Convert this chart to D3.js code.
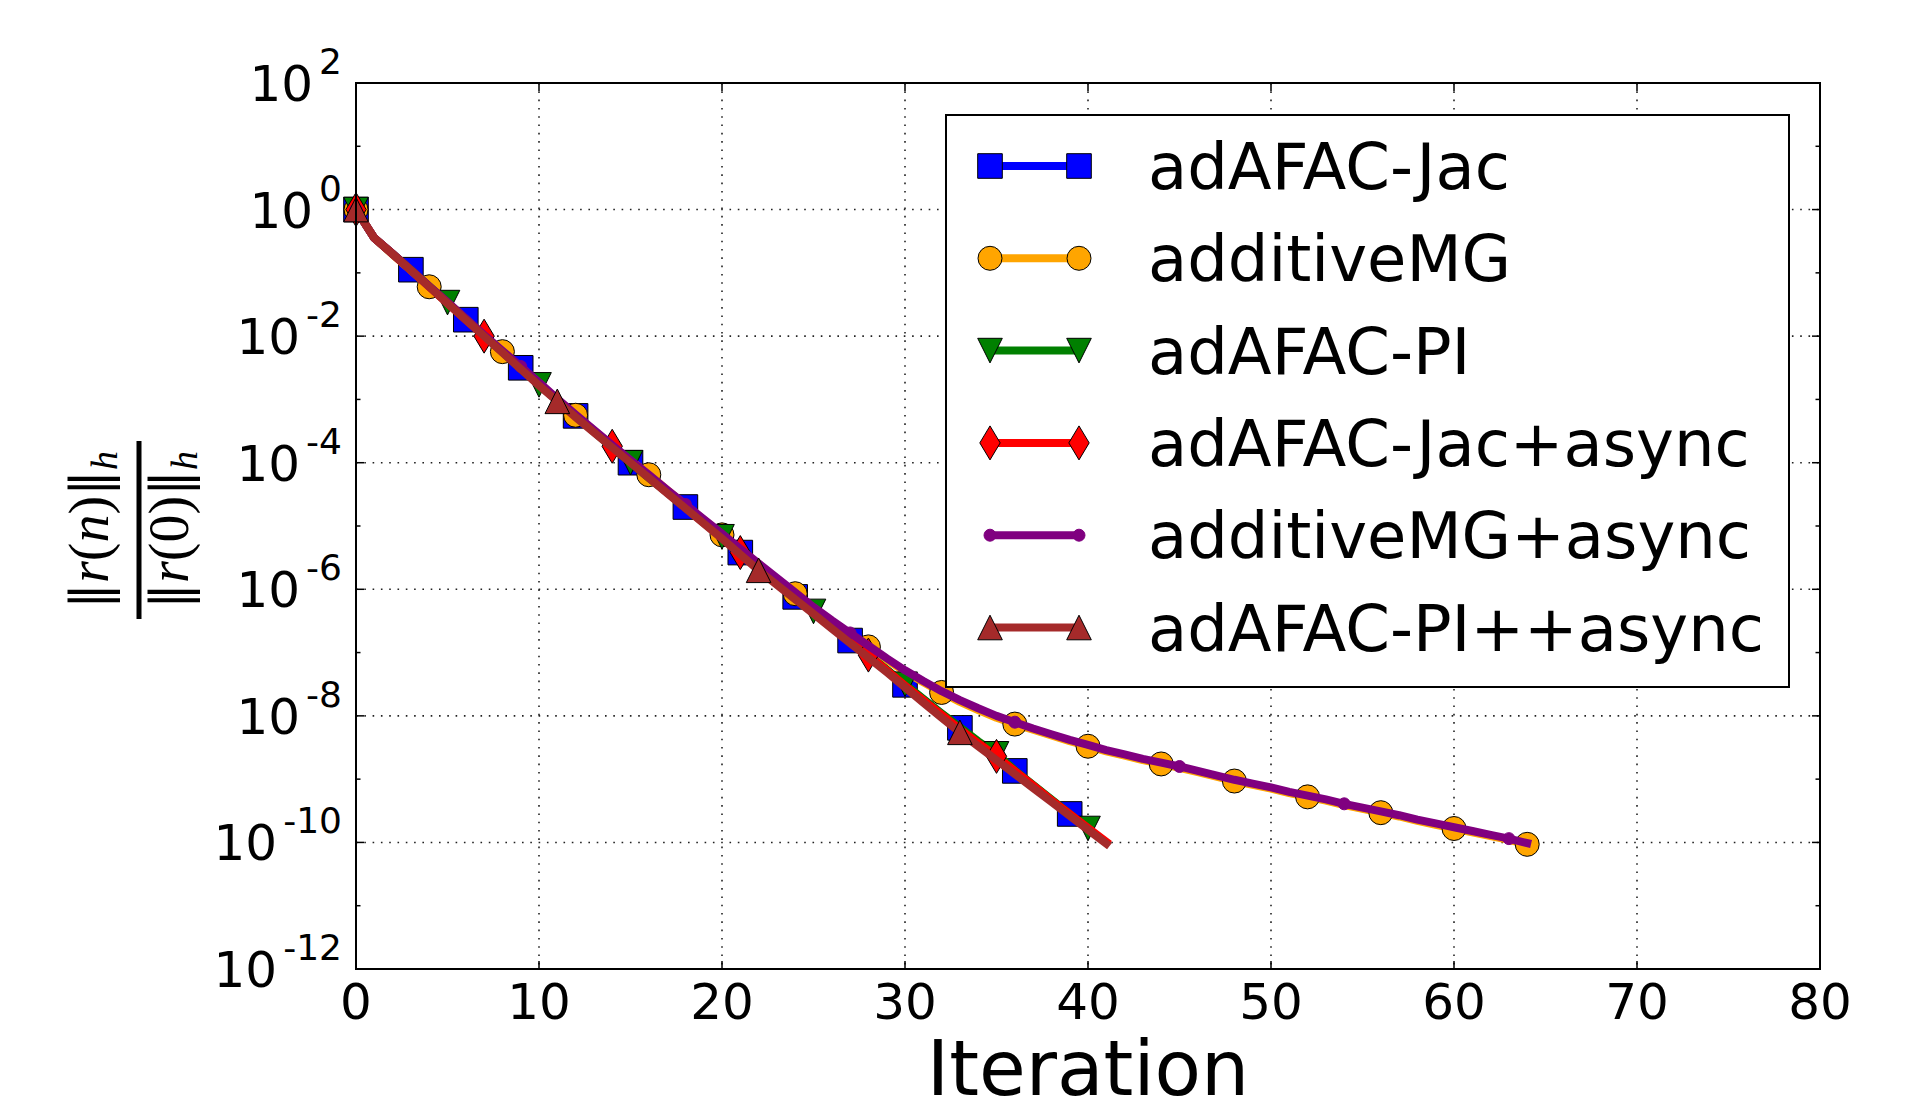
<!DOCTYPE html>
<html>
<head>
<meta charset="utf-8">
<script src="https://d3js.org/d3.v7.min.js"></script>
<style>
  body { margin: 0; background: #fff; }
  text { font-family: "DejaVu Sans", sans-serif; fill: #000; }
</style>
</head>
<body>
<script>
// log10 of ||r(n)||/||r(0)|| for each iteration n
const jacLog = [0, -0.45, -0.70, -0.95, -1.21, -1.47, -1.74, -1.99, -2.24, -2.50,
  -2.76, -3.02, -3.26, -3.50, -3.75, -4.00, -4.22, -4.46, -4.70, -4.93,
  -5.17, -5.42, -5.66, -5.89, -6.12, -6.35, -6.58, -6.81, -7.04, -7.27,
  -7.51, -7.74, -7.97, -8.19, -8.42, -8.65, -8.87, -9.10, -9.33, -9.55, -9.78];
const mgLog = [0, -0.45, -0.71, -0.96, -1.22, -1.47, -1.73, -1.99, -2.245, -2.49,
  -2.74, -3.00, -3.25, -3.49, -3.73, -3.96, -4.19, -4.43, -4.67, -4.90,
  -5.14, -5.38, -5.62, -5.85, -6.07, -6.30, -6.51, -6.71, -6.91, -7.11,
  -7.30, -7.47, -7.63, -7.78, -7.91, -8.03, -8.13, -8.22, -8.31, -8.40,
  -8.48, -8.56, -8.63, -8.70, -8.76, -8.82, -8.89, -8.96, -9.03, -9.09,
  -9.15, -9.22, -9.28, -9.34, -9.41, -9.47, -9.53, -9.59, -9.66, -9.72,
  -9.78, -9.84, -9.90, -9.96, -10.03];
const piLog = [0, -0.45, -0.70, -0.95, -1.21, -1.47, -1.73, -1.99, -2.25, -2.51,
  -2.77, -3.01, -3.26, -3.51, -3.76, -4.00, -4.24, -4.47, -4.71, -4.94,
  -5.17, -5.41, -5.65, -5.88, -6.12, -6.35, -6.58, -6.81, -7.04, -7.27,
  -7.50, -7.73, -7.96, -8.18, -8.40, -8.60, -8.86, -9.09, -9.32, -9.55, -9.78];
const jacAsyncLog = [0, -0.45, -0.70, -0.96, -1.22, -1.48, -1.74, -2.00, -2.25, -2.50,
  -2.76, -3.01, -3.26, -3.50, -3.74, -3.99, -4.23, -4.47, -4.71, -4.95,
  -5.18, -5.42, -5.66, -5.89, -6.12, -6.36, -6.59, -6.82, -7.04, -7.28,
  -7.52, -7.75, -7.98, -8.21, -8.43, -8.64, -8.87, -9.10, -9.33, -9.55,
  -9.77, -9.99];
const mgAsyncLog = [0, -0.45, -0.70, -0.95, -1.21, -1.46, -1.72, -1.98, -2.23, -2.48,
  -2.73, -2.99, -3.24, -3.48, -3.72, -3.96, -4.19, -4.43, -4.66, -4.89,
  -5.12, -5.36, -5.59, -5.82, -6.05, -6.28, -6.49, -6.69, -6.89, -7.09,
  -7.28, -7.45, -7.61, -7.75, -7.88, -8.00, -8.10, -8.20, -8.29, -8.38,
  -8.46, -8.54, -8.61, -8.68, -8.74, -8.80, -8.87, -8.94, -9.01, -9.07,
  -9.13, -9.20, -9.26, -9.32, -9.39, -9.45, -9.51, -9.57, -9.64, -9.70,
  -9.76, -9.82, -9.88, -9.94, -10.01];
const piAsyncLog = [0, -0.45, -0.70, -0.96, -1.22, -1.48, -1.74, -2.00, -2.26, -2.52,
  -2.78, -3.03, -3.28, -3.52, -3.76, -4.00, -4.24, -4.48, -4.72, -4.96,
  -5.20, -5.45, -5.70, -5.93, -6.16, -6.39, -6.62, -6.85, -7.08, -7.31,
  -7.55, -7.79, -8.03, -8.26, -8.48, -8.70, -8.92, -9.14, -9.36, -9.58,
  -9.80, -10.02];

const seriesNames = ['adAFAC-Jac', 'additiveMG', 'adAFAC-PI', 'adAFAC-Jac+async', 'additiveMG+async', 'adAFAC-PI++async'];
const seriesLogs = [jacLog, mgLog, piLog, jacAsyncLog, mgAsyncLog, piAsyncLog];
const seriesColors = ['#0000ff', '#ffa500', '#008000', '#ff0000', '#800080', '#a52a2a'];
const seriesMarkers = ['square', 'circle', 'tridown', 'diamond', 'point', 'triup'];
const markEvery = [3, 4, 5, 7, 9, 11];

const xTicks = [0, 10, 20, 30, 40, 50, 60, 70, 80];
const yTickExps = [2, 0, -2, -4, -6, -8, -10, -12];
const yMinorExps = [1, -1, -3, -5, -7, -9, -11];

const W = 1908, H = 1107;
const m = { left: 356, top: 83, right: 1820, bottom: 969 };

const svg = d3.select('body').append('svg').attr('width', W).attr('height', H);
svg.append('rect').attr('width', W).attr('height', H).attr('fill', '#fff');

const x = d3.scaleLinear().domain([0, 80]).range([m.left, m.right]);
const y = d3.scaleLog().domain([1e-12, 1e2]).range([m.bottom, m.top]);

// grid
const grid = svg.append('g').attr('stroke', '#222').attr('stroke-width', 1.6).attr('stroke-dasharray', '1.6,6.7');
grid.selectAll('.gx').data(xTicks.slice(1, -1)).enter().append('line')
  .attr('x1', d => x(d)).attr('x2', d => x(d)).attr('y1', m.top).attr('y2', m.bottom);
grid.selectAll('.gy').data(yTickExps.slice(1, -1)).enter().append('line')
  .attr('x1', m.left).attr('x2', m.right).attr('y1', d => y(10 ** d)).attr('y2', d => y(10 ** d));

// ticks (inward, all four sides)
const ticks = svg.append('g').attr('stroke', '#000').attr('stroke-width', 1.5);
xTicks.forEach(t => {
  ticks.append('line').attr('x1', x(t)).attr('x2', x(t)).attr('y1', m.bottom).attr('y2', m.bottom - 8);
  ticks.append('line').attr('x1', x(t)).attr('x2', x(t)).attr('y1', m.top).attr('y2', m.top + 8);
});
yTickExps.concat(yMinorExps).forEach(e => {
  const len = e % 2 === 0 ? 8 : 4.5;
  const yy = y(10 ** e);
  ticks.append('line').attr('x1', m.left).attr('x2', m.left + len).attr('y1', yy).attr('y2', yy);
  ticks.append('line').attr('x1', m.right).attr('x2', m.right - len).attr('y1', yy).attr('y2', yy);
});

// x tick labels
svg.append('g').selectAll('text').data(xTicks).enter().append('text')
  .attr('x', d => x(d)).attr('y', 1019).attr('text-anchor', 'middle')
  .attr('font-size', 50).text(d => d);

// y tick labels 10^e
yTickExps.forEach(e => {
  const t = svg.append('text').attr('x', 342).attr('y', y(10 ** e) + 18)
    .attr('text-anchor', 'end').attr('font-size', 50).text('10');
  t.append('tspan').attr('dx', 6).attr('dy', -27).attr('font-size', 36).text(e);
});

// axis titles
svg.append('text').attr('x', (m.left + m.right) / 2).attr('y', 1095)
  .attr('text-anchor', 'middle').attr('font-size', 76).text('Iteration');

const yLab = svg.append('g').attr('transform', 'translate(139,530) rotate(-90)');
yLab.append('line').attr('x1', -89).attr('x2', 89).attr('stroke', '#000').attr('stroke-width', 5);
function normText(yy, arg, argItalic) {
  const t = yLab.append('text').attr('x', 0).attr('y', yy).attr('text-anchor', 'middle')
    .attr('font-size', 56).style('font-family', '"Liberation Serif", "DejaVu Serif", serif');
  t.append('tspan').style('font-family', '"DejaVu Serif", serif').attr('font-size', 52).text('\u2016');
  t.append('tspan').attr('font-style', 'italic').text('r');
  t.append('tspan').text('(');
  t.append('tspan').attr('font-style', argItalic ? 'italic' : 'normal').text(arg);
  t.append('tspan').text(')');
  t.append('tspan').style('font-family', '"DejaVu Serif", serif').attr('font-size', 52).text('\u2016');
  t.append('tspan').attr('font-style', 'italic').attr('font-size', 38).attr('dy', 9).text('h');
}
normText(-31, 'n', true);
normText(49, '0', false);

// markers
function drawMarker(g, type, cx, cy, color) {
  const s = 12.3;
  let el;
  if (type === 'circle') {
    el = g.append('circle').attr('cx', cx).attr('cy', cy).attr('r', 12);
  } else if (type === 'point') {
    el = g.append('circle').attr('cx', cx).attr('cy', cy).attr('r', 6);
  } else {
    let p;
    if (type === 'square') p = `M${-s},${-s}H${s}V${s}H${-s}Z`;
    if (type === 'tridown') p = `M${-s},${-s}L${s},${-s}L0,${s}Z`;
    if (type === 'triup') p = `M0,${-s}L${s},${s}L${-s},${s}Z`;
    if (type === 'diamond') p = `M0,-17L10.2,0L0,17L-10.2,0Z`;
    el = g.append('path').attr('d', p).attr('transform', `translate(${cx},${cy})`);
  }
  el.attr('fill', color);
  if (type === 'point') el.attr('stroke', color).attr('stroke-width', 1);
  else el.attr('stroke', '#000').attr('stroke-width', 1);
}

const plot = svg.append('g');
const line = d3.line().x((d, i) => x(i)).y(d => y(10 ** d));
seriesLogs.forEach((vals, k) => {
  const g = plot.append('g');
  g.append('path').attr('d', line(vals)).attr('fill', 'none')
    .attr('stroke', seriesColors[k]).attr('stroke-width', 8)
    .attr('stroke-linejoin', 'round').attr('stroke-linecap', 'square');
  vals.forEach((v, i) => {
    if (i % markEvery[k] === 0) drawMarker(g, seriesMarkers[k], x(i), y(10 ** v), seriesColors[k]);
  });
});

// frame
svg.append('rect').attr('x', m.left).attr('y', m.top)
  .attr('width', m.right - m.left).attr('height', m.bottom - m.top)
  .attr('fill', 'none').attr('stroke', '#000').attr('stroke-width', 2);

// legend
const lg = svg.append('g');
lg.append('rect').attr('x', 946).attr('y', 115).attr('width', 843).attr('height', 572)
  .attr('fill', '#fff').attr('stroke', '#000').attr('stroke-width', 2);
seriesNames.forEach((name, k) => {
  const cy = 166 + k * 92.3;
  lg.append('line').attr('x1', 990).attr('x2', 1079).attr('y1', cy).attr('y2', cy)
    .attr('stroke', seriesColors[k]).attr('stroke-width', 8);
  drawMarker(lg, seriesMarkers[k], 990, cy, seriesColors[k]);
  drawMarker(lg, seriesMarkers[k], 1079, cy, seriesColors[k]);
  lg.append('text').attr('x', 1148).attr('y', cy + 23).attr('font-size', 64).text(name);
});
</script>
</body>
</html>
